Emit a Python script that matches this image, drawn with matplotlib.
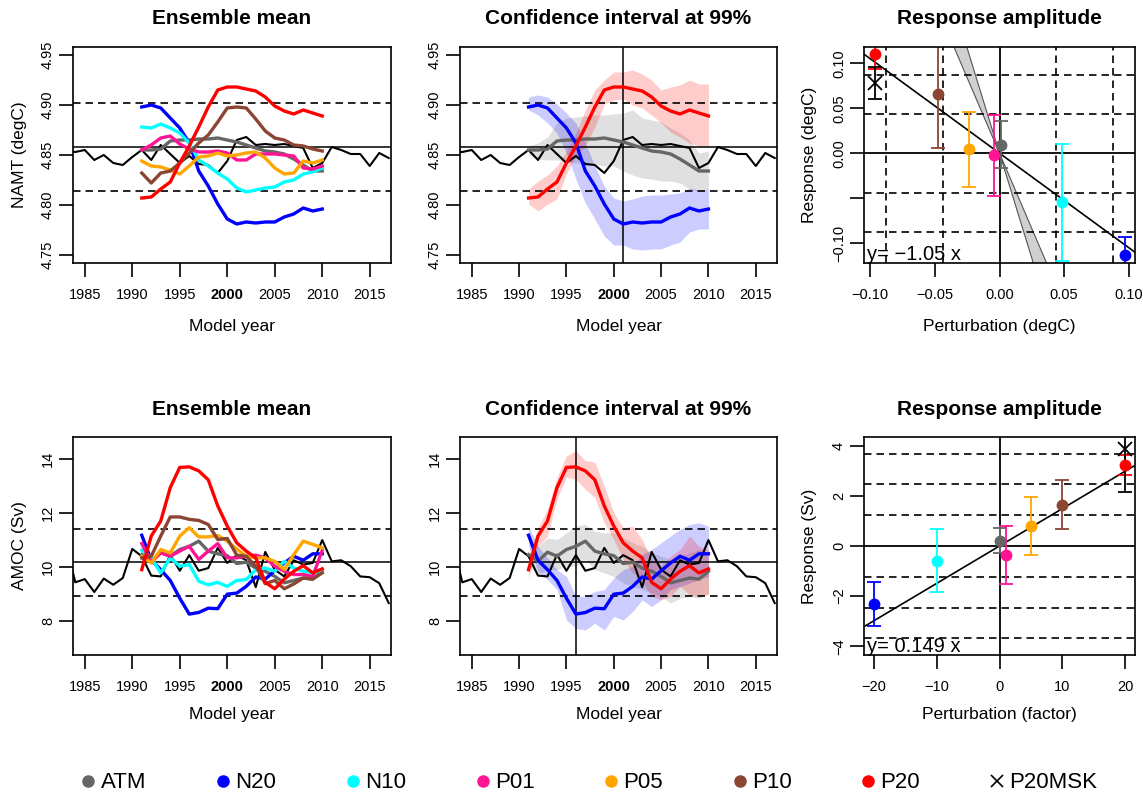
import matplotlib
matplotlib.use("Agg")
import matplotlib.pyplot as plt
from matplotlib.lines import Line2D
import numpy as np

# ensemble names and colours
names = ["ATM", "N20", "N10", "P01", "P05", "P10", "P20"]
colors = ["#666666", "#0000ff", "#00ffff", "#ff1493", "#ffa500", "#8b4533", "#ff0000"]

years = np.arange(1991, 2011)
ctrl_years = np.arange(1983, 2018)

# control run
namt_ctrl = [4.853, 4.853, 4.855, 4.845, 4.850, 4.842, 4.840, 4.848, 4.855, 4.845,
             4.860, 4.851, 4.842, 4.849, 4.841, 4.840, 4.832, 4.844, 4.865, 4.868,
             4.860, 4.861, 4.860, 4.861, 4.859, 4.857, 4.837, 4.842, 4.858, 4.855,
             4.851, 4.851, 4.839, 4.852, 4.847]
amoc_ctrl = [10.90, 9.42, 9.54, 9.06, 9.56, 9.33, 9.58, 10.66, 10.39, 9.67,
             9.64, 10.45, 9.85, 10.43, 9.85, 9.95, 10.70, 10.14, 10.43, 10.24,
             9.24, 10.55, 9.89, 9.64, 10.24, 10.08, 10.14, 10.99, 10.20, 10.24,
             10.02, 9.64, 9.61, 9.39, 8.65]
namt_ctrl_mean, namt_ctrl_sd = 4.858, 0.0437
amoc_ctrl_mean, amoc_ctrl_sd = 10.16, 1.23

# ensemble means, NAMT (degC)
namt_atm = [4.855, 4.855, 4.856, 4.864, 4.865, 4.865, 4.866, 4.866, 4.867, 4.865,
            4.863, 4.860, 4.857, 4.854, 4.853, 4.851, 4.846, 4.840, 4.834, 4.834]
namt_n20 = [4.898, 4.900, 4.897, 4.887, 4.877, 4.862, 4.834, 4.819, 4.801, 4.786,
            4.781, 4.783, 4.782, 4.783, 4.783, 4.788, 4.791, 4.797, 4.794, 4.796]
namt_n10 = [4.878, 4.877, 4.881, 4.877, 4.872, 4.862, 4.845, 4.839, 4.832, 4.826,
            4.817, 4.813, 4.815, 4.817, 4.818, 4.823, 4.825, 4.831, 4.833, 4.837]
namt_p01 = [4.855, 4.860, 4.867, 4.869, 4.861, 4.856, 4.853, 4.853, 4.854, 4.852,
            4.845, 4.845, 4.851, 4.851, 4.851, 4.850, 4.849, 4.837, 4.836, 4.839]
namt_p05 = [4.844, 4.839, 4.838, 4.835, 4.831, 4.839, 4.848, 4.849, 4.852, 4.849,
            4.850, 4.852, 4.853, 4.847, 4.837, 4.831, 4.832, 4.844, 4.842, 4.845]
namt_p10 = [4.832, 4.822, 4.832, 4.834, 4.842, 4.852, 4.862, 4.870, 4.883, 4.897,
            4.898, 4.897, 4.886, 4.874, 4.867, 4.865, 4.860, 4.859, 4.856, 4.854]
namt_p20 = [4.807, 4.808, 4.816, 4.823, 4.842, 4.859, 4.878, 4.898, 4.915, 4.918,
            4.918, 4.916, 4.914, 4.908, 4.899, 4.894, 4.891, 4.895, 4.892, 4.889]

# 99% confidence bands, NAMT
namt_atm_lo = [4.850, 4.846, 4.845, 4.845, 4.844, 4.842, 4.842, 4.841, 4.839, 4.839,
               4.834, 4.830, 4.827, 4.826, 4.824, 4.824, 4.822, 4.816, 4.814, 4.816]
namt_atm_hi = [4.859, 4.862, 4.868, 4.882, 4.887, 4.888, 4.889, 4.890, 4.890, 4.891,
               4.892, 4.895, 4.887, 4.885, 4.883, 4.877, 4.872, 4.865, 4.852, 4.854]
namt_n20_lo = [4.895, 4.890, 4.882, 4.872, 4.852, 4.826, 4.802, 4.786, 4.769, 4.760,
               4.760, 4.756, 4.755, 4.756, 4.756, 4.760, 4.763, 4.773, 4.776, 4.776]
namt_n20_hi = [4.908, 4.910, 4.908, 4.901, 4.892, 4.882, 4.862, 4.839, 4.819, 4.807,
               4.804, 4.806, 4.809, 4.810, 4.810, 4.811, 4.812, 4.817, 4.815, 4.816]
namt_p20_lo = [4.801, 4.794, 4.801, 4.806, 4.831, 4.849, 4.859, 4.878, 4.901, 4.905,
               4.906, 4.900, 4.897, 4.890, 4.882, 4.873, 4.868, 4.862, 4.859, 4.859]
namt_p20_hi = [4.816, 4.824, 4.830, 4.839, 4.854, 4.872, 4.895, 4.915, 4.925, 4.933,
               4.933, 4.935, 4.931, 4.925, 4.915, 4.918, 4.920, 4.925, 4.921, 4.921]

# ensemble means, AMOC (Sv)
amoc_atm = [10.45, 10.20, 10.54, 10.39, 10.64, 10.76, 10.95, 10.58, 10.48, 10.41,
            10.12, 10.17, 9.95, 9.83, 9.64, 9.40, 9.49, 9.58, 9.54, 9.83]
amoc_n20 = [11.17, 10.24, 9.89, 9.49, 8.83, 8.24, 8.30, 8.46, 8.44, 8.98,
            9.02, 9.27, 9.62, 9.54, 9.85, 10.14, 10.39, 10.24, 10.48, 10.48]
amoc_n10 = [10.61, 10.33, 9.77, 10.33, 10.02, 10.08, 9.46, 9.33, 9.42, 9.27,
            9.49, 9.52, 9.89, 9.95, 9.83, 10.20, 9.95, 9.83, 9.79, 9.83]
amoc_p01 = [10.86, 10.17, 10.51, 10.39, 10.58, 10.76, 10.27, 10.58, 10.86, 10.33,
            10.33, 10.39, 10.43, 10.33, 10.02, 9.83, 9.71, 9.71, 9.64, 10.61]
amoc_p05 = [10.39, 10.14, 10.64, 10.51, 11.14, 11.45, 11.11, 11.11, 11.16, 10.95,
            10.66, 10.39, 10.33, 10.33, 10.20, 9.89, 10.45, 10.95, 10.83, 10.70]
amoc_p10 = [10.33, 10.39, 11.14, 11.85, 11.85, 11.76, 11.72, 11.57, 11.01, 11.05,
            10.43, 10.39, 10.02, 9.37, 9.49, 9.18, 9.36, 9.58, 9.54, 9.77]
amoc_p20 = [9.89, 11.14, 11.70, 12.94, 13.69, 13.71, 13.56, 13.23, 12.26, 11.51,
            10.89, 10.58, 10.33, 9.42, 9.18, 9.54, 9.83, 10.04, 9.77, 9.92]

# 99% confidence bands, AMOC
amoc_atm_lo = [10.08, 9.71, 9.89, 9.89, 10.02, 10.02, 10.27, 9.89, 9.77, 9.64,
               9.39, 9.27, 9.15, 9.02, 8.90, 8.65, 8.83, 8.90, 8.83, 9.02]
amoc_atm_hi = [10.51, 10.76, 11.07, 11.01, 11.26, 11.51, 11.57, 11.32, 11.26, 11.26,
               11.07, 10.89, 10.76, 10.51, 10.39, 10.27, 10.39, 10.51, 10.64, 10.51]
amoc_n20_lo = [10.76, 9.83, 9.52, 9.15, 8.02, 7.71, 7.65, 7.90, 7.65, 8.15,
               8.02, 8.34, 8.77, 8.52, 8.77, 9.15, 9.27, 9.39, 9.52, 9.64]
amoc_n20_hi = [11.51, 10.76, 10.33, 9.89, 9.64, 8.90, 8.90, 9.08, 9.15, 9.58,
               9.89, 10.02, 10.45, 10.64, 10.89, 11.14, 11.39, 11.57, 11.63, 11.51]
amoc_p20_lo = [9.58, 10.76, 11.14, 12.51, 13.32, 13.25, 12.88, 12.57, 11.63, 11.01,
               10.27, 9.77, 9.46, 8.90, 8.77, 8.90, 9.27, 8.96, 8.90, 8.96]
amoc_p20_hi = [10.39, 11.45, 12.13, 13.32, 14.12, 14.31, 13.94, 13.88, 13.00, 12.01,
               11.45, 11.51, 11.01, 10.27, 10.02, 10.39, 10.64, 11.14, 10.76, 10.64]

# response amplitudes (same order as names)
pert_degc = [0.0009, 0.0974, 0.0485, -0.0045, -0.0236, -0.0477, -0.0961]
namt_resp = [0.0094, -0.1126, -0.0547, -0.0021, 0.0042, 0.0653, 0.110]
namt_err = [0.026, 0.020, 0.065, 0.045, 0.042, 0.059, 0.016]
namt_msk = (-0.0961, 0.078, 0.018)
namt_slope = -1.05
namt_wedge = (-3.35, -4.67)

pert_factor = [0, -20, -10, 1, 5, 10, 20]
amoc_resp = [0.21, -2.33, -0.58, -0.35, 0.79, 1.65, 3.25]
amoc_err = [0.49, 0.875, 1.26, 1.16, 1.15, 0.98, 0.40]
amoc_msk = (20, 3.87, 1.72)
amoc_slope = 0.149

year_ticks = [1985, 1990, 1995, 2000, 2005, 2010, 2015]

plt.rcParams['font.family'] = ['Liberation Sans', 'DejaVu Sans']
plt.rcParams['axes.linewidth'] = 1.2

W, H = 1143, 796
fig = plt.figure(figsize=(W / 100, H / 100), dpi=100)
col = dict(zip(names, colors))
DASH = (4.5, 3)


def panel(x0, y0, x1, y1):
    ax = fig.add_axes([x0 / W, 1 - y1 / H, (x1 - x0) / W, (y1 - y0) / H])
    ax.tick_params(direction='out', length=10, width=1.2, labelsize=10.5)
    ax.tick_params(axis='x', pad=8)
    ax.tick_params(axis='y', pad=3)
    return ax


def ftext(x, y, s, **kw):
    fig.text(x / W, 1 - y / H, s, ha='center', va='center', **kw)


def ts_panel(ax, ctrl, mean, sd, series, ylim, yticks, ylabels, bands=None, vline=None):
    ax.axhline(mean, color='k', lw=1.1)
    for k in (-1, 1):
        ax.axhline(mean + k * sd, color='k', lw=1.2, dashes=DASH)
    if vline is not None:
        ax.axvline(vline, color='k', lw=1.1)
    ax.plot(ctrl_years, ctrl, color='k', lw=1.5)
    for name, vals in series:
        ax.plot(years, vals, color=col[name], lw=2.4)
    if bands:
        for name, lo, hi in bands:
            ax.fill_between(years, lo, hi, color=col[name], alpha=0.2, lw=0)
    ax.set_xlim(1983.76, 2017.24)
    ax.set_ylim(*ylim)
    ax.set_xticks(year_ticks)
    ax.set_xticklabels([str(y) for y in year_ticks])
    for lab in ax.get_xticklabels():
        if lab.get_text() == "2000":
            lab.set_fontweight('bold')
    ax.set_yticks(yticks)
    ax.set_yticklabels(ylabels, rotation=90, va='center')


def resp_panel(ax, x, y, err, msk, slope, xlim, ylim, sd, vert, wedge=None):
    for k in (-3, -2, -1, 1, 2, 3):
        ax.axhline(k * sd, color='k', lw=1.2, dashes=DASH)
        if vert:
            ax.axvline(k * sd, color='k', lw=1.2, dashes=DASH)
    ax.axhline(0, color='k', lw=1.3)
    ax.axvline(0, color='k', lw=1.3)
    xs = np.array([xlim[0] * 1.1, xlim[1] * 1.1])
    if wedge:
        ax.fill_between(xs, wedge[0] * xs, wedge[1] * xs, facecolor='#d0d0d0',
                        edgecolor='#555555', lw=0.8)
    ax.plot(xs, slope * xs, color='k', lw=1.2)
    for i, name in enumerate(names):
        ax.errorbar(x[i], y[i], yerr=err[i], fmt='o', color=col[name], ms=7.5,
                    capsize=5, elinewidth=1.3, capthick=1.3)
    ax.errorbar(msk[0], msk[1], yerr=msk[2], fmt='x', color='k', ms=10, mew=1.3,
                capsize=5, elinewidth=1.3, capthick=1.3)
    ax.set_xlim(*xlim)
    ax.set_ylim(*ylim)


cols = [(73, 391), (460, 777), (864, 1135)]
rows = [(47, 263), (437, 655)]

namt_series = [("ATM", namt_atm), ("N20", namt_n20), ("N10", namt_n10), ("P01", namt_p01),
               ("P05", namt_p05), ("P10", namt_p10), ("P20", namt_p20)]
amoc_series = [("ATM", amoc_atm), ("N20", amoc_n20), ("N10", amoc_n10), ("P01", amoc_p01),
               ("P05", amoc_p05), ("P10", amoc_p10), ("P20", amoc_p20)]

namt_ylim = (4.742, 4.958)
namt_yt = [4.75, 4.80, 4.85, 4.90, 4.95]
namt_yl = ["4.75", "4.80", "4.85", "4.90", "4.95"]
amoc_ylim = (6.72, 14.82)
amoc_yt = [8, 10, 12, 14]
amoc_yl = ["8", "10", "12", "14"]

# top row: NAMT
ax = panel(cols[0][0], rows[0][0], cols[0][1], rows[0][1])
ts_panel(ax, namt_ctrl, namt_ctrl_mean, namt_ctrl_sd, namt_series, namt_ylim, namt_yt, namt_yl)

ax = panel(cols[1][0], rows[0][0], cols[1][1], rows[0][1])
ts_panel(ax, namt_ctrl, namt_ctrl_mean, namt_ctrl_sd,
         [("ATM", namt_atm), ("N20", namt_n20), ("P20", namt_p20)],
         namt_ylim, namt_yt, namt_yl,
         bands=[("ATM", namt_atm_lo, namt_atm_hi), ("N20", namt_n20_lo, namt_n20_hi),
                ("P20", namt_p20_lo, namt_p20_hi)], vline=2001)

ax = panel(cols[2][0], rows[0][0], cols[2][1], rows[0][1])
resp_panel(ax, pert_degc, namt_resp, namt_err, namt_msk, namt_slope,
           (-0.1048, 0.1048), (-0.122, 0.118), namt_ctrl_sd, True, wedge=namt_wedge)
ax.set_xticks([-0.10, -0.05, 0.0, 0.05, 0.10])
ax.set_xticklabels(["\u22120.10", "\u22120.05", "0.00", "0.05", "0.10"])
ax.set_yticks([-0.10, -0.05, 0.0, 0.05, 0.10])
ax.set_yticklabels(["\u22120.10", "", "0.00", "0.05", "0.10"], rotation=90, va='center')
ax.text(0.01, 0.012, "y= \u22121.05 x", transform=ax.transAxes, fontsize=14.5,
        ha='left', va='baseline')

# bottom row: AMOC
ax = panel(cols[0][0], rows[1][0], cols[0][1], rows[1][1])
ts_panel(ax, amoc_ctrl, amoc_ctrl_mean, amoc_ctrl_sd, amoc_series, amoc_ylim, amoc_yt, amoc_yl)

ax = panel(cols[1][0], rows[1][0], cols[1][1], rows[1][1])
ts_panel(ax, amoc_ctrl, amoc_ctrl_mean, amoc_ctrl_sd,
         [("ATM", amoc_atm), ("N20", amoc_n20), ("P20", amoc_p20)],
         amoc_ylim, amoc_yt, amoc_yl,
         bands=[("ATM", amoc_atm_lo, amoc_atm_hi), ("N20", amoc_n20_lo, amoc_n20_hi),
                ("P20", amoc_p20_lo, amoc_p20_hi)], vline=1996)

ax = panel(cols[2][0], rows[1][0], cols[2][1], rows[1][1])
resp_panel(ax, pert_factor, amoc_resp, amoc_err, amoc_msk, amoc_slope,
           (-21.6, 21.6), (-4.35, 4.35), amoc_ctrl_sd, False)
ax.set_xticks([-20, -10, 0, 10, 20])
ax.set_xticklabels(["\u221220", "\u221210", "0", "10", "20"])
ax.set_yticks([-4, -2, 0, 2, 4])
ax.set_yticklabels(["\u22124", "\u22122", "0", "2", "4"], rotation=90, va='center')
ax.text(0.01, 0.012, "y= 0.149 x", transform=ax.transAxes, fontsize=14.5,
        ha='left', va='baseline')

# titles and axis labels
titles = ["Ensemble mean", "Confidence interval at 99%", "Response amplitude"]
for ty in (18, 410):
    for (c0, c1), t in zip(cols, titles):
        ftext((c0 + c1) / 2, ty, t, fontsize=15, fontweight='bold')
for (c0, c1), t in zip(cols, ["Model year", "Model year", "Perturbation (degC)"]):
    ftext((c0 + c1) / 2, 326, t, fontsize=12.5)
for (c0, c1), t in zip(cols, ["Model year", "Model year", "Perturbation (factor)"]):
    ftext((c0 + c1) / 2, 715, t, fontsize=12.5)
ftext(20, 155, "NAMT (degC)", fontsize=12.5, rotation=90)
ftext(20, 546, "AMOC (Sv)", fontsize=12.5, rotation=90)
ftext(809, 155, "Response (degC)", fontsize=12.5, rotation=90)
ftext(809, 546, "Response (Sv)", fontsize=12.5, rotation=90)

# legend
handles = [Line2D([], [], ls='none', marker='o', color=c, ms=8) for c in colors]
handles.append(Line2D([], [], ls='none', marker='x', color='k', ms=9, mew=1.2))
fig.legend(handles, names + ["P20MSK"], loc='center', bbox_to_anchor=(590 / W, 1 - 783 / H),
           ncol=8, frameon=False, fontsize=16, handlelength=0.5, handletextpad=0.3,
           columnspacing=3.2, borderpad=0)

fig.savefig("out.png", dpi=100)
